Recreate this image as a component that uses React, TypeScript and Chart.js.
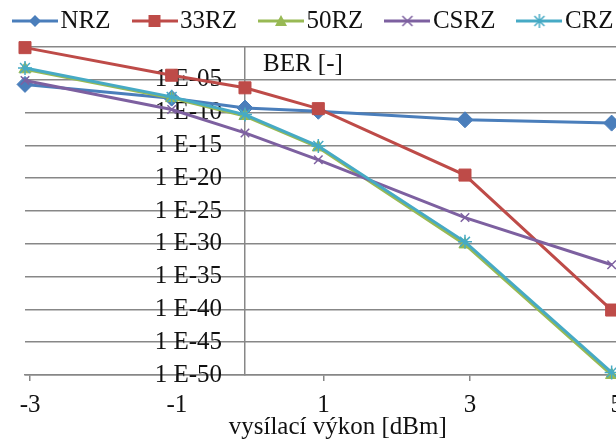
import React, { useEffect, useRef } from 'react';
import { Chart, registerables } from 'chart.js';

Chart.register(...registerables);

// ---- data ----
const xValues = [-3, -1, 0, 1, 3, 5];
const seriesNames = ['NRZ', '33RZ', '50RZ', 'CSRZ', 'CRZ'];
const nrz = [2e-6, 1.6e-8, 5e-10, 1.6e-10, 8e-12, 2.5e-12];
const rz33 = [0.8, 5e-5, 6e-7, 4e-10, 3e-20, 8e-41];
const rz50 = [4e-4, 1.6e-8, 3e-11, 5e-16, 8e-31, 1e-50];
const csrz = [8e-6, 3e-10, 8e-14, 6.3e-18, 1e-26, 6.3e-34];
const crz = [6.3e-4, 2.5e-8, 5e-11, 8e-16, 2e-30, 2.5e-50];
const xTickValues = [-3, -1, 1, 3, 5];
const yTickExponents = [0, -5, -10, -15, -20, -25, -30, -35, -40, -45, -50];
const xTitle = 'vysílací výkon [dBm]';
const yTitle = 'BER [-]';

// ---- styles ----
const W = 660;
const H = 441;
const FONT = '"Liberation Serif", "Times New Roman", serif';
const FS = 25;
const TEXT = '#111111';
const GRID = '#878787';
const colors = ['#4a7ebb', '#be4b48', '#98b954', '#7d60a0', '#46aac5'];
const markerStyles = ['rectRot', 'rect', 'triangle', 'crossRot', 'star'];
const markerRadius = [8, 8.5, 7, 6, 7];
const xMin = -3;
const xMax = 5.53;
const tickShift = 0.07;
const yLabelShift = 23;
const LEG_IMG_W = 46;

function makeLegendImage(color: string, style: string) {
  const c = document.createElement('canvas');
  c.width = LEG_IMG_W;
  c.height = 22;
  const g = c.getContext('2d')!;
  const cx = LEG_IMG_W / 2, cy = 11;
  g.strokeStyle = color;
  g.fillStyle = color;
  g.lineWidth = 3;
  g.beginPath();
  g.moveTo(0, cy);
  g.lineTo(LEG_IMG_W, cy);
  g.stroke();
  g.lineWidth = 1.5;
  g.beginPath();
  if (style === 'rectRot') {
    g.moveTo(cx, cy - 6); g.lineTo(cx + 6, cy); g.lineTo(cx, cy + 6); g.lineTo(cx - 6, cy); g.closePath(); g.fill();
  } else if (style === 'rect') {
    g.fillRect(cx - 6, cy - 6, 12, 12);
  } else if (style === 'triangle') {
    g.moveTo(cx, cy - 6); g.lineTo(cx + 6, cy + 5); g.lineTo(cx - 6, cy + 5); g.closePath(); g.fill();
  } else if (style === 'crossRot') {
    g.moveTo(cx - 5, cy - 5); g.lineTo(cx + 5, cy + 5); g.moveTo(cx + 5, cy - 5); g.lineTo(cx - 5, cy + 5); g.stroke();
  } else {
    g.moveTo(cx - 5, cy - 5); g.lineTo(cx + 5, cy + 5); g.moveTo(cx + 5, cy - 5); g.lineTo(cx - 5, cy + 5);
    g.moveTo(cx, cy - 7); g.lineTo(cx, cy + 7); g.stroke();
  }
  return c;
}

function yLabel(v: number) {
  const e = Math.round(Math.log10(v));
  if (e === 0) return '';
  return '1 E-' + String(-e).padStart(2, '0');
}

export default function App() {
  const ref = useRef<HTMLCanvasElement | null>(null);

  useEffect(() => {
    if (!ref.current) return;
    const seriesValues = [nrz, rz33, rz50, csrz, crz];
    const legendImgs = seriesNames.map((_, i) => makeLegendImage(colors[i], markerStyles[i]));
    const datasets = seriesNames.map((name, i) => ({
      label: name,
      data: xValues.map((x, j) => ({ x, y: seriesValues[i][j] })),
      borderColor: colors[i],
      backgroundColor: colors[i],
      borderWidth: 3,
      pointStyle: markerStyles[i] as any,
      pointRadius: markerRadius[i],
      pointBackgroundColor: colors[i],
      pointBorderColor: colors[i],
      pointBorderWidth: i >= 3 ? 1.5 : 1,
      tension: 0,
      clip: false as any,
      order: seriesNames.length - i,
      xAxisID: 'x',
      yAxisID: 'y',
    }));

    const layoutFix = {
      id: 'layoutFix',
      beforeLayout(chart: any) {
        const lg = chart.legend;
        if (lg && !lg.__patched) {
          const orig = lg.fit.bind(lg);
          lg.fit = () => { orig(); lg.height = 47; };
          lg.__patched = true;
        }
      },
      afterLayout(chart: any) {
        const lg = chart.legend;
        if (lg) { lg.left = -9; lg.top = -22.5; }
      },
      beforeDraw(chart: any) {
        const s = chart.scales.y;
        const items = s.getLabelItems(chart.chartArea);
        items.forEach((it: any) => {
          if (!it.__shifted) {
            it.options.translation[0] -= yLabelShift;
            it.__shifted = true;
          }
        });
      },
    };

    const berLabel = {
      id: 'berLabel',
      afterDraw(chart: any) {
        const ctx = chart.ctx;
        const x0 = chart.scales.x.getPixelForValue(0);
        ctx.save();
        ctx.font = `${FS}px ${FONT}`;
        ctx.fillStyle = TEXT;
        ctx.textAlign = 'left';
        ctx.textBaseline = 'middle';
        ctx.fillText(yTitle, x0 + 18, chart.chartArea.top + 17);
        ctx.restore();
      },
    };

    const chart = new Chart(ref.current, {
      type: 'line',
      data: { datasets: datasets as any },
      plugins: [layoutFix, berLabel],
      options: {
        animation: false,
        responsive: false,
        layout: { padding: { left: 25, right: 9, top: 0, bottom: 0 } },
        plugins: {
          tooltip: { enabled: false },
          legend: {
            display: true,
            position: 'top',
            align: 'start',
            labels: {
              usePointStyle: true,
              pointStyleWidth: 26,
              padding: 31,
              color: TEXT,
              font: { family: FONT, size: FS },
              sort: (a: any, b: any) => a.datasetIndex - b.datasetIndex,
              generateLabels: (c: any) =>
                (Chart.defaults.plugins.legend.labels.generateLabels as any)(c).map((it: any) => ({
                  ...it,
                  pointStyle: legendImgs[it.datasetIndex],
                })),
            },
          },
        },
        scales: {
          x: {
            type: 'linear',
            min: xMin,
            max: xMax,
            display: false,
          },
          xt: {
            type: 'linear',
            position: 'bottom',
            min: xMin - tickShift,
            max: xMax - tickShift,
            afterBuildTicks: (s: any) => { s.ticks = xTickValues.map((v) => ({ value: v })); },
            afterFit: (s: any) => { s.height = 66; },
            grid: { drawOnChartArea: false, drawTicks: true, tickLength: 6, color: GRID, lineWidth: 1.5 },
            border: { display: true, color: GRID, width: 1.5 },
            ticks: { autoSkip: false, maxRotation: 0, padding: 9, color: TEXT, font: { family: FONT, size: FS } },
            title: {
              display: true,
              text: xTitle,
              color: TEXT,
              font: { family: FONT, size: FS, lineHeight: 1 },
              padding: { top: 0, bottom: 1 },
            },
          },
          y: {
            type: 'logarithmic',
            position: { x: 0 } as any,
            min: 1e-50,
            max: 1,
            afterBuildTicks: (s: any) => { s.ticks = yTickExponents.map((e) => ({ value: Number('1e' + e) })); },
            grid: { color: GRID, lineWidth: 1.5, drawTicks: false },
            border: { display: true, color: GRID, width: 1.5 },
            ticks: {
              autoSkip: false,
              padding: 0,
              color: TEXT,
              font: { family: FONT, size: FS },
              callback: (v: any) => yLabel(Number(v)),
            },
          },
        } as any,
      },
    });
    return () => chart.destroy();
  }, []);

  return (
    <div style={{ position: 'fixed', left: 0, top: 0, width: 616, height: 441, overflow: 'hidden', background: '#fff' }}>
      <canvas ref={ref} width={W} height={H} style={{ width: W, height: H, display: 'block' }} />
    </div>
  );
}
